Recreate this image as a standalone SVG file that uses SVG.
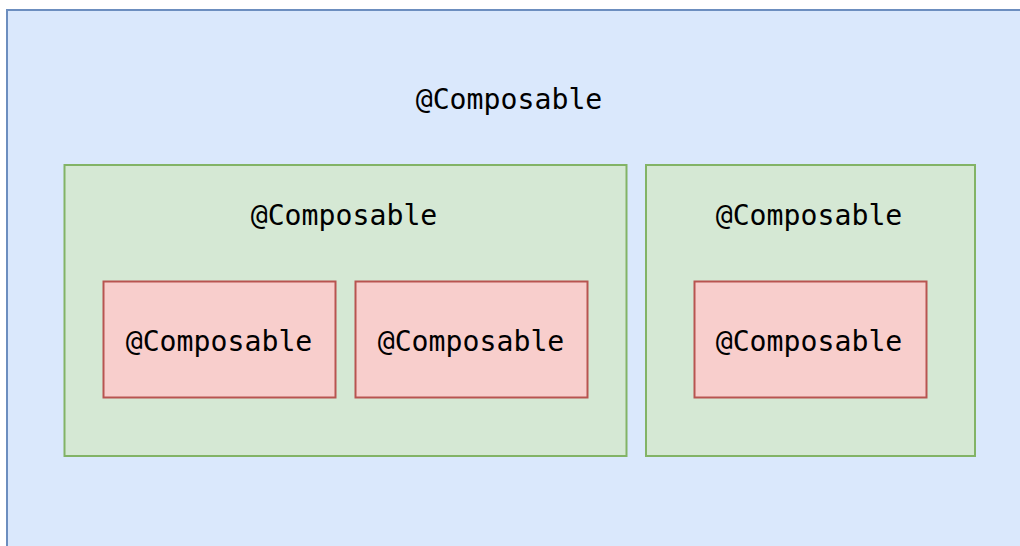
<svg xmlns="http://www.w3.org/2000/svg" width="1020" height="546" viewBox="0 0 1020 546">
  <style>
    .outer { fill: #dae8fc; stroke: #6c8ebf; stroke-width: 2; }
    .mid { fill: #d5e8d4; stroke: #82b366; stroke-width: 2; }
    .leaf { fill: #f8cecc; stroke: #b85450; stroke-width: 2; }
    text { font-family: "DejaVu Sans Mono", "Liberation Mono", monospace; font-size: 28.2px; fill: #000; text-anchor: middle; }
  </style>
  <rect width="1020" height="546" fill="#ffffff"/>
  <g id="root">
    <rect class="outer" x="7" y="10" width="1030" height="560"/>
    <text x="509" y="109">@Composable</text>
  </g>
  <g id="left">
    <rect class="mid" x="64.5" y="165" width="562" height="291"/>
    <text x="344" y="225">@Composable</text>
  </g>
  <g id="left-a">
    <rect class="leaf" x="103.5" y="281.5" width="232" height="116"/>
    <text x="219" y="351">@Composable</text>
  </g>
  <g id="left-b">
    <rect class="leaf" x="355.5" y="281.5" width="232" height="116"/>
    <text x="471" y="351">@Composable</text>
  </g>
  <g id="right">
    <rect class="mid" x="646" y="165" width="329" height="291"/>
    <text x="809" y="225">@Composable</text>
  </g>
  <g id="right-a">
    <rect class="leaf" x="694.5" y="281.5" width="232" height="116"/>
    <text x="809" y="351">@Composable</text>
  </g>
  <g id="connectors"/>
</svg>
